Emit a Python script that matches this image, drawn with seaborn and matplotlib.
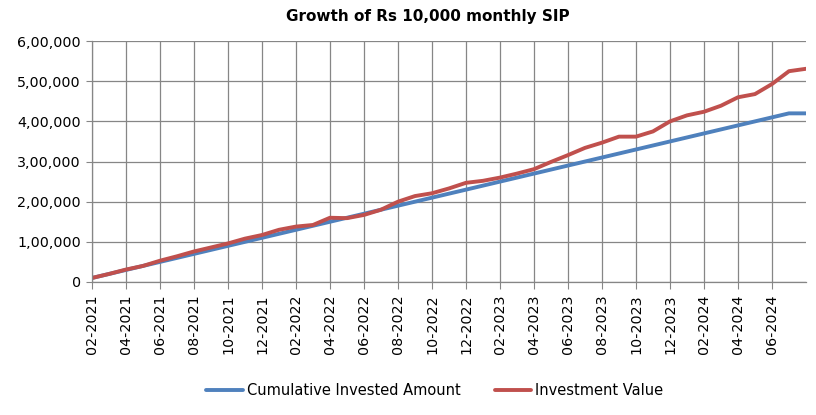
import numpy as np
import pandas as pd
import matplotlib
matplotlib.use("Agg")
import matplotlib.pyplot as plt
import matplotlib.ticker as mticker
import seaborn as sns

months = pd.date_range("2021-02-01", "2024-08-01", freq="MS").strftime("%m-%Y").tolist()

invested = [10000, 20000, 30000, 40000, 50000, 60000, 70000, 80000, 90000, 100000,
            110000, 120000, 130000, 140000, 150000, 160000, 170000, 180000, 190000, 200000,
            210000, 220000, 230000, 240000, 250000, 260000, 270000, 280000, 290000, 300000,
            310000, 320000, 330000, 340000, 350000, 360000, 370000, 380000, 390000, 400000,
            410000, 420000, 420000]

value = [10000, 20000, 31000, 40000, 53000, 64000, 76000, 86000, 96000, 108000,
         117000, 130000, 138000, 142000, 160000, 159000, 167000, 180000, 200000, 214000,
         221000, 233000, 247000, 252000, 260000, 270000, 281000, 299000, 316000, 334000,
         347000, 362000, 362000, 375000, 400000, 415000, 424000, 439000, 460000, 468000,
         493000, 525000, 531000]

series_names = ["Cumulative Invested Amount", "Investment Value"]
colors = ["#4F81BD", "#C0504D"]

df = pd.DataFrame({
    "idx": list(range(len(months))) * 2,
    "amount": invested + value,
    "series": [series_names[0]] * len(months) + [series_names[1]] * len(months),
})


def indian(v, pos=None):
    # lakh-style grouping: 6,00,000
    s = str(int(round(v)))
    if len(s) <= 3:
        return s
    last3, rest = s[-3:], s[:-3]
    groups = []
    while len(rest) > 2:
        groups.insert(0, rest[-2:])
        rest = rest[:-2]
    if rest:
        groups.insert(0, rest)
    return ",".join(groups) + "," + last3


sns.set_style("white")
plt.rcParams["font.family"] = ["DejaVu Sans"]
plt.rcParams["text.color"] = "black"
plt.rcParams["xtick.labelcolor"] = "black"
plt.rcParams["ytick.labelcolor"] = "black"

fig = plt.figure(figsize=(8.16, 4.15), dpi=100)
ax = fig.add_axes([0.1127, 0.3205, 0.875, 0.5805])

sns.lineplot(data=df, x="idx", y="amount", hue="series", palette=colors,
             linewidth=2.8, ax=ax, legend=False)

grid_c = "#868686"
ax.set_xlim(0, len(months) - 1)
ax.set_ylim(0, 600000)
ax.yaxis.set_major_locator(mticker.MultipleLocator(100000))
ax.yaxis.set_major_formatter(mticker.FuncFormatter(indian))
tick_pos = list(range(0, len(months), 2))[:-1]
ax.set_xticks(tick_pos)
ax.set_xticklabels([months[i] for i in tick_pos], rotation=90, fontsize=10.3)
ax.tick_params(axis="y", labelsize=10.3, length=4, color=grid_c, direction="out",
               left=True, pad=4, labelcolor="black")
ax.tick_params(axis="x", length=5, color=grid_c, direction="out", bottom=True, pad=4,
               labelcolor="black")
ax.grid(True, color=grid_c, linewidth=0.9)
ax.set_axisbelow(True)
for side in ["top", "right"]:
    ax.spines[side].set_visible(False)
for side in ["left", "bottom"]:
    ax.spines[side].set_color(grid_c)
    ax.spines[side].set_linewidth(0.9)
ax.set_xlabel("")
ax.set_ylabel("")

fig.suptitle("Growth of Rs 10,000 monthly SIP", x=0.524, y=0.978, fontsize=11,
             fontweight="bold", color="black")

handles = [plt.Line2D([], [], color=c, linewidth=2.8) for c in colors]
fig.legend(handles, series_names, loc="center", bbox_to_anchor=(0.533, 0.058), ncol=2,
           frameon=False, fontsize=10.5, handlelength=2.5, columnspacing=2.3,
           handletextpad=0.3, labelcolor="black")

fig.savefig("out.png", dpi=100)
